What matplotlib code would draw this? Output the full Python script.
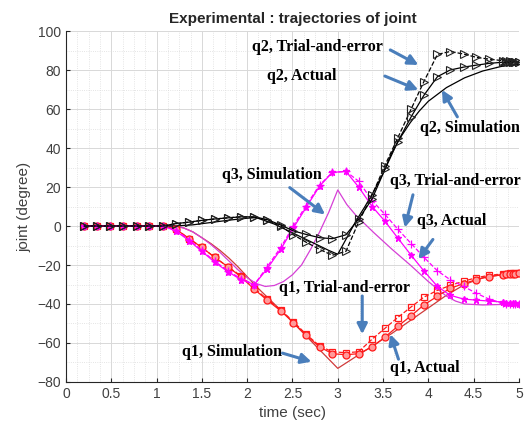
import matplotlib
matplotlib.use("Agg")
import matplotlib.pyplot as plt
from matplotlib.ticker import MultipleLocator

# experimental samples (trial-and-error and actual runs)
t_exp = [0.2, 0.34, 0.49, 0.63, 0.78, 0.92, 1.07,
         1.21, 1.36, 1.5, 1.64, 1.79, 1.93,
         2.08, 2.22, 2.37, 2.51, 2.65, 2.8, 2.94,
         3.09, 3.23, 3.38, 3.52, 3.66, 3.81, 3.95,
         4.1, 4.24, 4.39, 4.53, 4.67, 4.82,
         4.86, 4.9, 4.93, 4.96, 5.0]

q1_trial = [0, 0, 0, 0, 0, 0, 0,
            -1.5, -6.5, -11, -16, -21, -25.5,
            -32, -37.5, -43, -49, -55.5, -61.5, -64.5,
            -65, -64.5, -58, -52.5, -47, -41.5, -36.5,
            -33, -30.5, -28.3, -26.5, -25.3, -24.6,
            -24.4, -24.3, -24.2, -24.1, -24]
q1_actual = [0, 0, 0, 0, 0, 0, 0,
             -1.5, -6.5, -11, -16, -21, -26,
             -32.5, -38, -43.5, -49.5, -56, -62, -65.5,
             -66, -65.5, -62, -57, -51.5, -46, -40.5,
             -36, -32, -29.5, -27.5, -26, -25,
             -24.8, -24.6, -24.5, -24.4, -24.3]

q2_trial = [0, 0, 0, 0, 0, 0, 0,
            1.2, 2.0, 2.9, 3.6, 4.2, 4.7,
            4.5, 3.0, 0, -4.5, -8.3, -12, -15,
            -13, 2, 16, 31, 45, 60, 74,
            88, 89.5, 88.2, 86.5, 85.6, 84.8,
            84.5, 84.4, 84.3, 84.2, 84.1]
q2_actual = [0, 0, 0, 0, 0, 0, 0,
             1.2, 2.0, 2.9, 3.6, 4.2, 4.7,
             4.7, 3.3, 0.5, -2.5, -4.3, -6, -6.5,
             -4.5, 3.5, 14, 29, 43, 56, 67,
             76.6, 80, 81.5, 82.5, 83.4, 84,
             84, 84.1, 84.1, 84.2, 84.2]

q3_trial = [0, 0, 0, 0, 0, 0, 0,
            -2, -7, -12.5, -18, -23, -27,
            -30, -21, -11, 0, 10.5, 21, 27.5,
            28, 23, 13, 6, -1.5, -9, -16,
            -23, -27.5, -31, -34.5, -37.5, -39.5,
            -39.8, -40, -40, -40, -40]
q3_actual = [0, 0, 0, 0, 0, 0, 0,
             -2.5, -7.5, -13, -18.5, -23.5, -27.5,
             -30, -22, -12, -1, 9.5, 20.5, 27.5,
             28, 20, 10, 2.5, -6, -15, -23,
             -31, -35.5, -37.5, -38, -38.5, -39,
             -39.3, -39.5, -39.6, -39.7, -39.8]

# simulation curves
t_sim1 = [0.2, 1.2, 1.3, 1.4, 1.5, 1.6, 1.7, 1.8, 1.9, 2.0, 2.1, 2.2, 2.4, 2.6,
          2.8, 3.0, 3.2, 3.4, 3.6, 3.8, 4.0, 4.2, 4.4, 4.6, 4.8, 5.0]
q1_sim = [0, 0, -1, -3, -6, -9, -12.5, -16.5, -21, -26, -31, -35.5, -44.5, -54,
          -63.5, -73, -67, -61, -55, -48.5, -42, -35.5, -30, -26.5, -25, -25]

t_sim2 = [0.2, 1.2, 1.4, 1.6, 1.8, 2.0, 2.1, 2.3, 2.5, 2.7, 2.9, 3.0, 3.1, 3.2,
          3.3, 3.4, 3.5, 3.6, 3.7, 3.8, 3.9, 4.0, 4.2, 4.4, 4.6, 4.8, 5.0]
q2_sim = [0, 0, 0.6, 1.8, 3, 4, 4.3, 1, -3.5, -8, -12.5, -14.5, -6, 2.5,
          10, 18, 27, 38, 46, 53, 59, 64, 71, 76, 79.5, 81.8, 83]

t_sim3 = [0.2, 1.2, 1.3, 1.4, 1.5, 1.6, 1.7, 1.8, 1.9, 2.0, 2.1, 2.2, 2.3, 2.4,
          2.5, 2.6, 2.7, 2.8, 2.9, 3.0, 3.1, 3.2, 3.4, 3.6, 3.8, 4.0, 4.2, 4.3,
          4.4, 4.6, 5.0]
q3_sim = [0, 0, -1, -3, -6, -9.5, -13.5, -18, -22.5, -26.5, -29.5, -31, -30.5, -28.5,
          -25, -20, -12, -3, 7, 18.5, 11, 5.5, -3.5, -12, -20, -28.5, -36, -38.5,
          -40, -40.5, -40]

# annotation labels: (text, text position, arrow tail, arrow tip)
labels = [
    ("q2, Trial-and-error", (2.05, 91.9), (3.58, 90.3), (3.89, 82.6)),
    ("q2, Actual", (2.22, 77.0), (3.52, 76.9), (3.89, 69.8)),
    ("q2, Simulation", (3.91, 50.3), (4.32, 56.0), (4.15, 69.8)),
    ("q3, Simulation", (1.72, 26.3), (2.47, 19.7), (2.86, 5.9)),
    ("q3, Trial-and-error", (3.58, 22.9), (3.83, 16.0), (3.74, -0.8)),
    ("q3, Actual", (3.87, 2.5), (4.05, -6.9), (3.89, -17.0)),
    ("q1, Trial-and-error", (2.35, -31.6), (3.27, -35.9), (3.27, -55.5)),
    ("q1, Simulation", (1.28, -64.8), (2.39, -65.2), (2.71, -69.6)),
    ("q1, Actual", (3.58, -73.0), (3.67, -68.3), (3.58, -55.5)),
]

RED = "#ff1a1a"
MAG = "#ff00ff"
ARROW = "#4a7ebb"


def main():
    plt.rcParams["font.family"] = ["Liberation Sans", "DejaVu Sans"]
    fig = plt.figure(figsize=(5.32, 4.28), dpi=100)
    ax = fig.add_axes([0.124, 0.1075, 0.8515, 0.82])

    # simulation
    ax.plot(t_sim1, q1_sim, color="#d03a3a", lw=0.9)
    ax.plot(t_sim3, q3_sim, color="#d63fd6", lw=0.9)
    ax.plot(t_sim2, q2_sim, color="black", lw=0.9)

    # q1
    ax.plot(t_exp, q1_trial, color=RED, lw=0.9, ls="--", marker="s",
            ms=5, mfc="none", mec=RED, mew=0.9)
    ax.plot(t_exp, q1_actual, color=RED, lw=0.9, marker="o",
            ms=5, mfc="#ff9a9a", mec=RED, mew=0.9)
    # q3
    ax.plot(t_exp, q3_trial, color=MAG, lw=0.9, ls="--", marker="+",
            ms=6, mew=0.9)
    ax.plot(t_exp, q3_actual, color=MAG, lw=0.9, marker="*",
            ms=5, mfc=MAG, mec=MAG)
    # q2
    ax.plot(t_exp, q2_trial, color="black", lw=0.9, ls="--", marker=">",
            ms=5.5, mfc="none", mec="#222222", mew=0.8)
    ax.plot(t_exp, q2_actual, color="black", lw=0.9, marker=">",
            ms=5.5, mfc="none", mec="#222222", mew=0.8)

    for txt, xy_text, tail, tip in labels:
        ax.text(xy_text[0], xy_text[1], txt, fontsize=11.5, fontweight="bold",
                family="Liberation Serif", va="center", ha="left", zorder=6)
        ax.annotate("", xy=tip, xytext=tail,
                    arrowprops=dict(arrowstyle="-|>", color=ARROW, lw=2.2,
                                    mutation_scale=15, shrinkA=0, shrinkB=0),
                    zorder=6)

    ax.set_xlim(0, 5)
    ax.set_ylim(-80, 100)
    ax.xaxis.set_major_locator(MultipleLocator(0.5))
    ax.xaxis.set_minor_locator(MultipleLocator(0.125))
    ax.yaxis.set_major_locator(MultipleLocator(20))
    ax.yaxis.set_minor_locator(MultipleLocator(10))
    ax.set_xticklabels([f"{v:g}" for v in ax.get_xticks()])

    ax.grid(True, which="major", color="#d8d8d8", lw=0.7)
    ax.grid(True, which="minor", color="#dcdcdc", lw=0.6, ls=":")
    ax.set_axisbelow(True)

    for side in ("top", "right"):
        ax.spines[side].set_visible(False)
    for side in ("left", "bottom"):
        ax.spines[side].set_color("#262626")
        ax.spines[side].set_linewidth(0.8)
    ax.tick_params(which="major", direction="in", length=3, colors="#262626",
                   labelsize=10, labelcolor="#404040")
    ax.tick_params(which="minor", length=0)

    ax.set_title("Experimental : trajectories of joint", fontsize=11,
                 fontweight="bold", color="#262626", pad=6)
    ax.set_xlabel("time (sec)", fontsize=11, color="#404040")
    ax.set_ylabel("joint (degree)", fontsize=11, color="#404040")

    fig.savefig("out.png", dpi=100)
    plt.close(fig)


if __name__ == "__main__":
    main()
